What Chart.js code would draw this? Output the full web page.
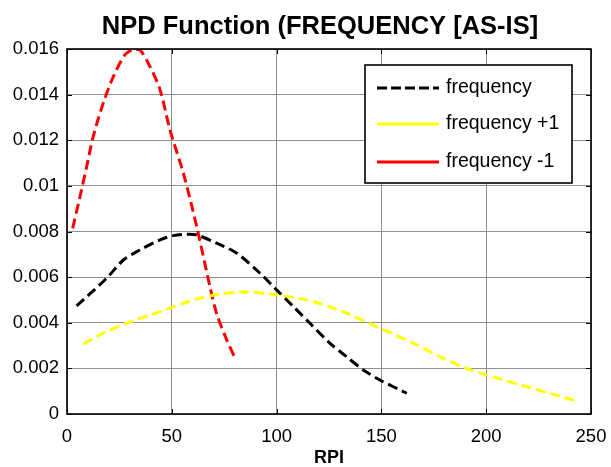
<!DOCTYPE html>
<html><head><meta charset="utf-8">
<script src="https://cdn.jsdelivr.net/npm/chart.js@4.4.0/dist/chart.umd.min.js"></script>
<style>html,body{margin:0;padding:0;background:#fff}#wrap{width:611px;height:467px}</style>
</head><body><div id="wrap"><canvas id="c" width="611" height="467"></canvas></div>
<script>
const titleText = 'NPD Function (FREQUENCY [AS-IS]';
const xLabel = 'RPI';
const seriesNames = ['frequency', 'frequency +1', 'frequency -1'];

const freqX = [4.6, 18.9, 26.9, 34.8, 44.4, 50.7, 57.1, 61.9, 71.4, 81.0, 92.1, 100.0, 108.0, 115.9, 125.5, 133.4, 141.4, 149.3, 162.1];
const freqY = [0.00474, 0.00595, 0.00675, 0.00719, 0.00763, 0.00782, 0.00788, 0.00785, 0.00749, 0.00705, 0.00617, 0.00544, 0.00471, 0.00398, 0.00310, 0.00251, 0.00193, 0.00149, 0.00091];

const plusX = [7.8, 17.3, 28.5, 44.4, 60.3, 73.0, 85.7, 100.0, 117.5, 133.4, 149.3, 165.2, 178.0, 190.7, 200.2, 216.1, 232.0, 243.2];
const plusY = [0.00307, 0.00354, 0.00398, 0.00449, 0.00500, 0.00526, 0.00535, 0.00522, 0.00493, 0.00442, 0.00376, 0.00310, 0.00251, 0.00200, 0.00171, 0.00128, 0.00086, 0.00057];

const minusX = [2.7, 6.2, 9.4, 12.5, 17.3, 22.1, 27.7, 31.6, 34.8, 39.6, 44.4, 49.1, 55.5, 61.9, 68.2, 71.4, 76.2, 80.6];
const minusY = [0.00814, 0.00953, 0.01085, 0.01216, 0.01363, 0.01479, 0.01575, 0.01598, 0.01596, 0.01523, 0.01421, 0.01246, 0.01056, 0.00821, 0.00558, 0.00440, 0.00325, 0.00237];

const xTicks = [0, 50, 100, 150, 200, 250];
const yTicks = [0, 0.002, 0.004, 0.006, 0.008, 0.01, 0.012, 0.014, 0.016];

const FONT = "'Liberation Sans', Arial, sans-serif";
const pts = (xs, ys) => xs.map((x, i) => ({x: x, y: ys[i]}));

const framePlugin = {
  id: 'frame',
  afterDatasetsDraw(chart) {
    const {ctx, chartArea: a, scales} = chart;
    ctx.save();
    // title
    ctx.fillStyle = '#000';
    ctx.font = 'bold 25.5px ' + FONT;
    ctx.textAlign = 'center';
    ctx.textBaseline = 'middle';
    ctx.fillText(titleText, (a.left + a.right) / 2 - 9, 27);
    // inward ticks
    ctx.strokeStyle = '#000';
    ctx.lineWidth = 1;
    const tl = 5;
    xTicks.forEach(v => {
      const px = Math.round(scales.x.getPixelForValue(v)) + 0.5;
      ctx.beginPath(); ctx.moveTo(px, a.bottom); ctx.lineTo(px, a.bottom - tl); ctx.stroke();
      ctx.beginPath(); ctx.moveTo(px, a.top); ctx.lineTo(px, a.top + tl); ctx.stroke();
    });
    yTicks.forEach(v => {
      const py = Math.round(scales.y.getPixelForValue(v)) + 0.5;
      ctx.beginPath(); ctx.moveTo(a.left, py); ctx.lineTo(a.left + tl, py); ctx.stroke();
      ctx.beginPath(); ctx.moveTo(a.right, py); ctx.lineTo(a.right - tl, py); ctx.stroke();
    });
    // box
    ctx.lineWidth = 1.6;
    ctx.strokeRect(a.left, a.top, a.right - a.left, a.bottom - a.top);
    // legend
    const w = 207, h = 118;
    const lx = a.right - 19 - w, ly = a.top + 16;
    ctx.fillStyle = '#fff';
    ctx.fillRect(lx, ly, w, h);
    ctx.lineWidth = 1.6;
    ctx.strokeStyle = '#000';
    ctx.strokeRect(lx, ly, w, h);
    const rows = [23, 59, 97];
    chart.data.datasets.forEach((ds, i) => {
      const y = ly + rows[i];
      ctx.beginPath();
      ctx.strokeStyle = ds.borderColor;
      ctx.lineWidth = 3;
      ctx.setLineDash(i === 0 ? [10, 4] : []);
      ctx.moveTo(lx + 12, y); ctx.lineTo(lx + 74, y); ctx.stroke();
      ctx.setLineDash([]);
      ctx.fillStyle = '#000';
      ctx.font = '19.5px ' + FONT;
      ctx.textBaseline = 'middle';
      ctx.textAlign = 'left';
      ctx.fillText(ds.label, lx + 81, y);
    });
    ctx.restore();
  }
};

const mk = (label, xs, ys, color) => ({
  label: label, data: pts(xs, ys), borderColor: color, backgroundColor: color,
  borderWidth: 3, borderDash: [10, 5], pointRadius: 0, tension: 0.3, fill: false
});

new Chart(document.getElementById('c'), {
  type: 'line',
  data: {
    datasets: [
      mk(seriesNames[0], freqX, freqY, '#000000'),
      mk(seriesNames[1], plusX, plusY, '#ffff00'),
      mk(seriesNames[2], minusX, minusY, '#ff0000')
    ]
  },
  options: {
    responsive: false, animation: false, devicePixelRatio: 1,
    layout: {padding: {left: 0, right: 20, top: 49, bottom: 0}},
    plugins: {
      legend: {display: false},
      tooltip: {enabled: false},
      title: {display: false}
    },
    scales: {
      x: {
        type: 'linear', min: 0, max: 250,
        afterBuildTicks: s => { s.ticks = xTicks.map(v => ({value: v})); },
        afterFit: s => { s.height = 53; s.paddingLeft = 0; s.paddingRight = 0; },
        grid: {color: '#8f8f8f', lineWidth: 1, drawTicks: false},
        border: {display: false},
        ticks: {color: '#000', padding: 12, font: {family: FONT, size: 18.5}, maxRotation: 0,
          callback: v => String(v)},
        title: {display: true, text: xLabel, color: '#000', padding: {top: 0, bottom: 0},
          font: {family: FONT, size: 18, weight: 'bold', lineHeight: 1}}
      },
      y: {
        type: 'linear', min: 0, max: 0.016,
        afterBuildTicks: s => { s.ticks = yTicks.map(v => ({value: v})); },
        afterFit: s => { s.width = 67; s.paddingTop = 0; s.paddingBottom = 0; },
        grid: {color: '#8f8f8f', lineWidth: 1, drawTicks: false},
        border: {display: false},
        ticks: {color: '#000', padding: 8, font: {family: FONT, size: 18.5},
          callback: v => String(+(+v).toFixed(3))}
      }
    }
  },
  plugins: [framePlugin]
});
</script>
</body></html>
